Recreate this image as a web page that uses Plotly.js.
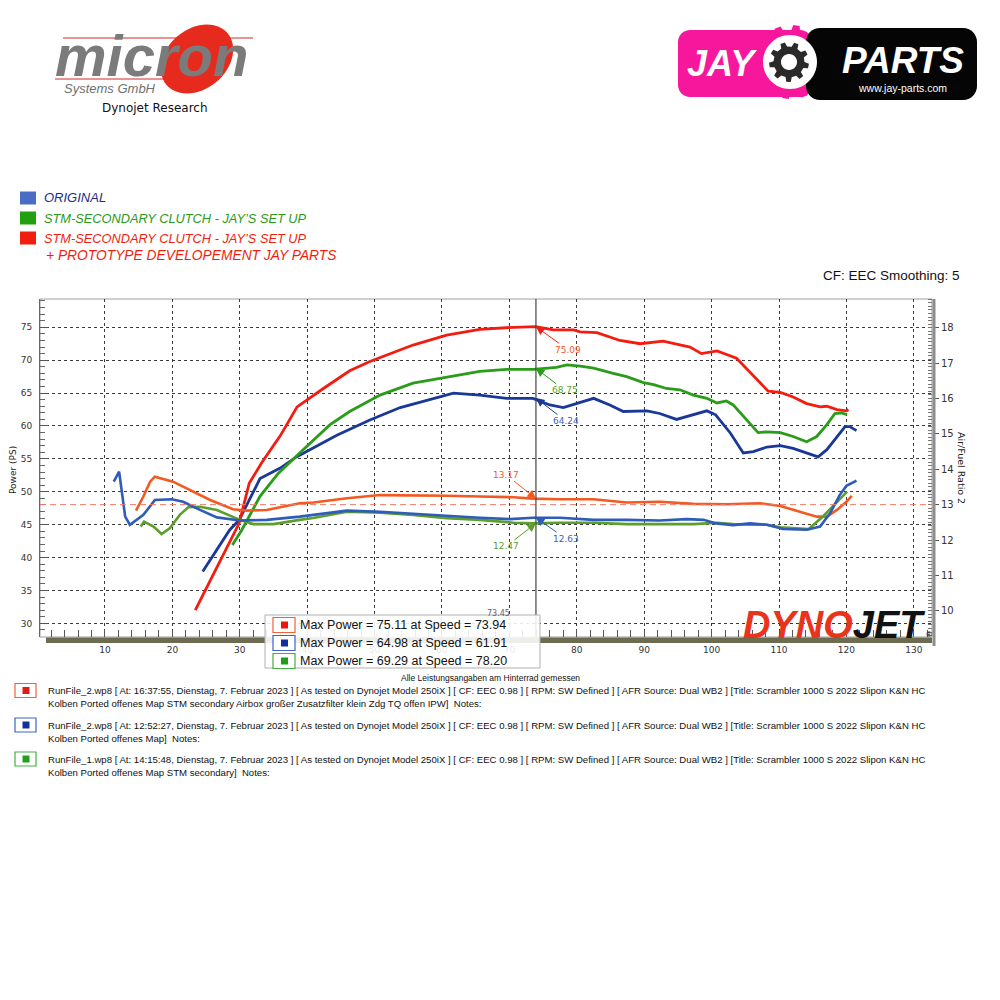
<!DOCTYPE html>
<html><head><meta charset="utf-8">
<script src="https://cdn.plot.ly/plotly-3.0.1.min.js"></script>
<style>html,body{margin:0;padding:0;background:#fff}#chart{width:1000px;height:1000px}</style>
</head><body><div id="chart"></div>
<script>
// ---------- DATA ----------
const redPowerX = [23.4, 29.9, 31.4, 33.3, 36.0, 38.5, 42.4, 46.3, 49.3, 55.7, 60.7, 65.6, 70.6, 73.9, 76.5, 79.5, 80.5, 83.0, 86.4, 89.4, 92.8, 95.3, 96.8, 98.5, 100.8, 103.7, 106.7, 108.4, 110.2, 112.1, 114.1, 116.1, 117.1, 118.6, 120.0, 120.3];
const redPowerY = [32.0, 45.2, 51.3, 54.5, 58.5, 62.9, 65.7, 68.4, 69.8, 72.3, 73.8, 74.7, 75.0, 75.1, 74.6, 74.6, 74.3, 74.2, 73.0, 72.5, 72.9, 72.3, 72.0, 71.0, 71.4, 70.3, 67.2, 65.3, 65.1, 64.4, 63.4, 62.9, 63.0, 62.5, 62.3, 62.5];

const greenPowerX = [28.9, 30.3, 33.0, 35.7, 39.4, 43.4, 46.3, 49.3, 50.8, 55.7, 60.7, 65.6, 69.6, 73.5, 77.0, 78.5, 80.5, 82.5, 85.4, 87.4, 89.9, 91.4, 93.3, 95.3, 97.3, 99.3, 100.8, 102.2, 103.2, 105.2, 106.9, 108.2, 110.2, 112.1, 114.1, 115.6, 117.1, 118.3, 119.3, 120.1];
const greenPowerY = [41.9, 44.2, 49.3, 52.8, 56.4, 60.2, 62.2, 63.8, 64.7, 66.5, 67.4, 68.3, 68.6, 68.6, 68.9, 69.3, 69.1, 68.8, 68.0, 67.5, 66.6, 66.3, 65.7, 65.5, 64.7, 64.2, 63.5, 63.8, 63.2, 60.9, 59.0, 59.1, 59.0, 58.4, 57.6, 58.4, 60.2, 61.9, 62.0, 61.7];

const bluePowerX = [24.5, 28.5, 29.9, 33.0, 36.0, 38.4, 44.4, 49.3, 53.8, 58.2, 61.7, 65.6, 69.6, 73.5, 76.0, 78.0, 80.5, 82.5, 84.9, 86.9, 90.4, 92.3, 94.8, 97.3, 99.3, 100.6, 102.8, 104.7, 106.2, 108.2, 110.2, 112.1, 114.1, 115.8, 117.1, 118.6, 119.8, 120.5, 121.5];
const bluePowerY = [37.9, 44.2, 45.7, 52.0, 53.6, 55.3, 58.6, 60.9, 62.8, 64.0, 65.0, 64.7, 64.2, 64.2, 63.2, 62.8, 63.6, 64.2, 63.2, 62.2, 62.3, 61.9, 61.0, 61.7, 62.3, 61.7, 58.9, 55.9, 56.1, 56.8, 57.0, 56.6, 55.9, 55.3, 56.4, 58.4, 59.9, 59.9, 59.3];

const redAfrX = [14.6, 15.7, 16.7, 17.4, 20.1, 22.6, 25.6, 29.0, 31.0, 34.0, 38.9, 40.9, 45.9, 50.8, 55.7, 60.7, 65.6, 70.6, 73.5, 77.5, 82.5, 87.4, 92.3, 97.3, 102.2, 107.2, 110.2, 113.1, 115.6, 117.1, 118.6, 120.0, 120.8];
const redAfrY = [12.83, 13.23, 13.65, 13.79, 13.65, 13.42, 13.13, 12.87, 12.83, 12.85, 13.04, 13.06, 13.18, 13.27, 13.27, 13.25, 13.23, 13.21, 13.17, 13.15, 13.15, 13.06, 13.08, 13.02, 13.01, 13.04, 12.96, 12.80, 12.66, 12.66, 12.85, 13.08, 13.25];

const greenAfrX = [15.3, 15.8, 17.2, 18.4, 19.6, 21.1, 22.4, 24.1, 26.6, 30.0, 32.0, 35.0, 38.9, 40.9, 45.9, 50.8, 55.7, 60.7, 65.6, 70.6, 73.5, 77.5, 82.5, 87.4, 92.3, 97.3, 100.8, 103.2, 105.7, 108.2, 110.2, 114.4, 116.6, 118.6, 120.1];
const greenAfrY = [12.38, 12.52, 12.38, 12.17, 12.33, 12.71, 12.93, 12.94, 12.85, 12.57, 12.45, 12.45, 12.57, 12.62, 12.80, 12.77, 12.71, 12.62, 12.57, 12.49, 12.47, 12.49, 12.49, 12.45, 12.45, 12.45, 12.49, 12.45, 12.43, 12.43, 12.36, 12.31, 12.68, 13.06, 13.37];

const blueAfrX = [11.3, 12.1, 13.0, 13.7, 15.7, 17.4, 19.9, 21.6, 24.1, 26.6, 30.0, 34.0, 38.9, 45.9, 50.8, 55.7, 60.7, 65.6, 70.1, 73.5, 77.5, 82.5, 87.4, 92.3, 96.3, 98.8, 100.7, 103.2, 105.7, 108.2, 110.6, 114.1, 116.1, 117.6, 119.0, 120.0, 121.5];
const blueAfrY = [13.65, 13.93, 12.66, 12.43, 12.71, 13.13, 13.15, 13.08, 12.85, 12.64, 12.55, 12.57, 12.66, 12.83, 12.80, 12.74, 12.68, 12.63, 12.59, 12.63, 12.63, 12.57, 12.57, 12.55, 12.59, 12.57, 12.47, 12.42, 12.47, 12.43, 12.31, 12.29, 12.38, 12.76, 13.27, 13.53, 13.68];

const cursorSpeed = 73.94;
const cursorPower = [75.09, 68.75, 64.24];   // red, green, blue
const cursorAfr = [13.17, 12.47, 12.63];     // red, green, blue
const afrReference = 13;
const maxPower = [75.11, 64.98, 69.29];
const maxPowerSpeed = [73.94, 61.91, 78.20];
const xTicks = [10, 20, 30, 40, 50, 60, 70, 80, 90, 100, 110, 120, 130];

const legendLabels = ['ORIGINAL', 'STM-SECONDARY CLUTCH - JAY\u2019S SET UP', 'STM-SECONDARY CLUTCH - JAY\u2019S SET UP', '+ PROTOTYPE DEVELOPEMENT JAY PARTS'];
const notes = [
  ['RunFile_2.wp8 [ At: 16:37:55, Dienstag, 7. Februar 2023 ] [ As tested on Dynojet Model 250iX ] [ CF: EEC 0.98 ] [ RPM: SW Defined ] [ AFR Source: Dual WB2 ] [Title: Scrambler 1000 S 2022 Slipon K&amp;N HC',
   'Kolben Ported offenes Map STM secondary Airbox gro\u00dfer Zusatzfilter klein Zdg TQ offen IPW]  Notes:'],
  ['RunFile_2.wp8 [ At: 12:52:27, Dienstag, 7. Februar 2023 ] [ As tested on Dynojet Model 250iX ] [ CF: EEC 0.98 ] [ RPM: SW Defined ] [ AFR Source: Dual WB2 ] [Title: Scrambler 1000 S 2022 Slipon K&amp;N HC',
   'Kolben Ported offenes Map]  Notes:'],
  ['RunFile_1.wp8 [ At: 14:15:48, Dienstag, 7. Februar 2023 ] [ As tested on Dynojet Model 250iX ] [ CF: EEC 0.98 ] [ RPM: SW Defined ] [ AFR Source: Dual WB2 ] [Title: Scrambler 1000 S 2022 Slipon K&amp;N HC',
   'Kolben Ported offenes Map STM secondary]  Notes:']
];

// ---------- LAYOUT HELPERS ----------
const PL = 40, PR = 932, PT = 299, PB = 637;
function px(x){ return (x - PL) / (PR - PL); }
function py(y){ return (PB - y) / (PB - PT); }
function P(x, y){ return px(x).toFixed(5) + ',' + py(y).toFixed(5); }

const C = {
  redP: '#f41c10', greenP: '#2a9c1a', blueP: '#1a3898',
  redA: '#f35a22', greenA: '#5c9f2a', blueA: '#2e5cba'
};

const traces = [
  {x: redAfrX, y: redAfrY, yaxis: 'y2', mode: 'lines', line: {color: C.redA, width: 2.6}},
  {x: greenAfrX, y: greenAfrY, yaxis: 'y2', mode: 'lines', line: {color: C.greenA, width: 2.6}},
  {x: blueAfrX, y: blueAfrY, yaxis: 'y2', mode: 'lines', line: {color: C.blueA, width: 2.6}},
  {x: bluePowerX, y: bluePowerY, mode: 'lines', line: {color: C.blueP, width: 2.8}},
  {x: greenPowerX, y: greenPowerY, mode: 'lines', line: {color: C.greenP, width: 2.8}},
  {x: redPowerX, y: redPowerY, mode: 'lines', line: {color: C.redP, width: 2.8}}
];

function rectP(x0, y0, x1, y1, fill, line, lw, layer){
  return {type: 'rect', xref: 'paper', yref: 'paper', x0: px(x0), x1: px(x1), y0: py(y1), y1: py(y0),
    fillcolor: fill, line: {color: line || fill, width: lw === undefined ? 0 : lw}, layer: layer || 'above'};
}
function pathP(points, fill, layer){
  let d = 'M ' + points.map(p => P(p[0], p[1])).join(' L ') + ' Z';
  return {type: 'path', xref: 'paper', yref: 'paper', path: d, fillcolor: fill, line: {width: 0}, layer: layer || 'above'};
}
function ellipsePts(cx, cy, a, b, deg){
  const t = deg * Math.PI / 180, pts = [];
  for (let i = 0; i < 60; i++){
    const u = i / 60 * 2 * Math.PI;
    pts.push([cx + a*Math.cos(u)*Math.cos(t) - b*Math.sin(u)*Math.sin(t), cy + a*Math.cos(u)*Math.sin(t) + b*Math.sin(u)*Math.cos(t)]);
  }
  return pts;
}
function gearPts(cx, cy, rO, rI, n){
  const pts = [];
  for (let i = 0; i < n; i++){
    const a0 = i / n * 2 * Math.PI, s = 2 * Math.PI / n;
    const angs = [[a0, rI], [a0 + s*0.12, rO], [a0 + s*0.45, rO], [a0 + s*0.57, rI]];
    angs.forEach(([a, r]) => pts.push([cx + r*Math.cos(a), cy + r*Math.sin(a)]));
  }
  return pts;
}
function roundRectPts(x0, y0, x1, y1, r){
  const pts = [];
  const corners = [[x1 - r, y0 + r, -90], [x1 - r, y1 - r, 0], [x0 + r, y1 - r, 90], [x0 + r, y0 + r, 180]];
  corners.forEach(([cx, cy, st]) => {
    for (let k = 0; k <= 8; k++){
      const a = (st + k * 90 / 8) * Math.PI / 180;
      pts.push([cx + r*Math.cos(a), cy + r*Math.sin(a)]);
    }
  });
  return pts;
}
function ann(x, y, text, opts){
  return Object.assign({xref: 'paper', yref: 'paper', x: px(x), y: py(y), text: text, showarrow: false,
    xanchor: 'left', yanchor: 'middle', font: {family: 'Liberation Sans, Arial, sans-serif', size: 10, color: '#111'}}, opts || {});
}

const shapes = [];
const annotations = [];

// plot frame / axis decorations
shapes.push(rectP(PL, PT, PR, PB, 'rgba(0,0,0,0)', '#a0a0a0', 1, 'below'));
shapes.push({type: 'line', xref: 'paper', yref: 'paper', x0: px(934), x1: px(934), y0: py(299), y1: py(646), line: {color: '#8d8d8d', width: 3}, layer: 'above'});
shapes.push(rectP(46, 637.5, 932, 643, '#6d6b50', null, 0, 'above'));
// AFR reference line
shapes.push({type: 'line', xref: 'paper', yref: 'y2', x0: 0, x1: 1, y0: afrReference, y1: afrReference, line: {color: '#f07a66', width: 1, dash: '6px,4px'}, layer: 'above'});
// cursor
shapes.push({type: 'line', xref: 'x', yref: 'paper', x0: cursorSpeed, x1: cursorSpeed, y0: 0, y1: 1, line: {color: '#444', width: 1.2}, layer: 'above'});

// cursor annotations
const labelCols = [C.redA, '#5ca12e', '#3a62c0'];
const arrowCols = [C.redP, C.greenP, C.blueP];
const powOff = [[32, 23], [29, 22], [30, 23]];
cursorPower.forEach((v, i) => annotations.push({x: cursorSpeed, y: v, xref: 'x', yref: 'y', text: v.toFixed(2), showarrow: true,
  ax: powOff[i][0], ay: powOff[i][1], arrowhead: 2, arrowsize: 1.7, arrowwidth: 1, arrowcolor: arrowCols[i],
  font: {family: 'DejaVu Sans, sans-serif', size: 9, color: labelCols[i]}}));
const afrOff = [[-30, -24], [-30, 23], [30, 21]];
const afrArrowCols = [C.redA, C.greenA, C.blueA];
cursorAfr.forEach((v, i) => annotations.push({x: cursorSpeed, y: v, xref: 'x', yref: 'y2', text: v.toFixed(2), showarrow: true,
  ax: afrOff[i][0], ay: afrOff[i][1], arrowhead: 2, arrowsize: 1.7, arrowwidth: 1, arrowcolor: afrArrowCols[i],
  font: {family: 'DejaVu Sans, sans-serif', size: 9, color: labelCols[i]}}));

annotations.push(ann(498, 613, '73.45', {font: {family: 'DejaVu Sans, sans-serif', size: 8, color: '#666'}, xanchor: 'center'}));

// Max power box
shapes.push(rectP(265, 615, 540, 668, 'rgba(255,255,255,0.88)', '#b0b0b0', 1, 'above'));
const boxBorder = ['#f0603c', '#3c68c4', '#44b040'];
const boxFill = ['#e8180c', '#12309c', '#1f9d1c'];
const mpRowsY = [625, 643, 661];
mpRowsY.forEach((yy, i) => {
  shapes.push(rectP(273, yy - 7.5, 295, yy + 7.5, '#ffffff', boxBorder[i], 1.2, 'above'));
  shapes.push(rectP(281, yy - 3.5, 288, yy + 3.5, boxFill[i], null, 0, 'above'));
  annotations.push(ann(298, yy, 'Max Power = ' + maxPower[i].toFixed(2) + ' at Speed = ' + maxPowerSpeed[i].toFixed(2),
    {font: {family: 'Liberation Sans, Arial, sans-serif', size: 12.5, color: '#111'}}));
});

// top-left legend
const legCols = ['#4a6cc4', '#22a00f', '#f01e0e'];
const legTextCols = ['#1a2e8a', '#2a9a1a', '#f01e0e'];
[198, 218, 238].forEach((yy, i) => {
  shapes.push(rectP(20, yy - 6.5, 36, yy + 6.5, legCols[i], null, 0, 'above'));
  annotations.push(ann(42, yy, legendLabels[i], {font: {family: 'Liberation Sans, Arial, sans-serif', size: i === 0 ? 13 : 12.8, color: legTextCols[i], style: 'italic'}}));
});
annotations.push(ann(44, 256, legendLabels[3], {font: {family: 'Liberation Sans, Arial, sans-serif', size: 13.8, color: legTextCols[2], style: 'italic'}}));

annotations.push(ann(962, 275, 'CF: EEC Smoothing: 5', {xanchor: 'right', font: {family: 'Liberation Sans, Arial, sans-serif', size: 13.5, color: '#111'}}));

// axis titles
annotations.push(ann(13, 470, 'Power (PS)', {xanchor: 'center', textangle: -90, font: {family: 'DejaVu Sans, sans-serif', size: 9, color: '#222'}}));
annotations.push(ann(962, 468, 'Air/Fuel Ratio 2', {xanchor: 'center', textangle: 90, font: {family: 'DejaVu Sans, sans-serif', size: 9.5, color: '#222'}}));

// DYNOJET logo
annotations.push(ann(834, 625, '<span style="color:#e8341c">DYNO</span><span style="color:#111">JET</span>', {xanchor: 'center',
  font: {family: 'Liberation Sans, Arial, sans-serif', size: 38, weight: 'bold', style: 'italic', color: '#111'}}));
annotations.push(ann(929, 634, '\u00ae', {xanchor: 'center', font: {family: 'Liberation Sans, Arial, sans-serif', size: 8, color: '#111'}}));

// bottom notes
annotations.push(ann(491, 678, 'Alle Leistungsangaben am Hinterrad gemessen', {xanchor: 'center', font: {family: 'Liberation Sans, Arial, sans-serif', size: 8.5, color: '#111'}}));
const noteY = [690.5, 725, 759];
const noteBorder = ['#f06040', '#3a66c0', '#44b044'];
const noteFill = ['#e01c10', '#12309c', '#20a020'];
noteY.forEach((yy, i) => {
  shapes.push(rectP(15, yy - 7, 36, yy + 7, '#ffffff', noteBorder[i], 1.2, 'above'));
  shapes.push(rectP(22.5, yy - 3.5, 29.5, yy + 3.5, noteFill[i], null, 0, 'above'));
  annotations.push(ann(46, yy, notes[i][0], {font: {family: 'Liberation Sans, Arial, sans-serif', size: 9.6, color: '#111'}}));
  annotations.push(ann(46, yy + 13, notes[i][1], {font: {family: 'Liberation Sans, Arial, sans-serif', size: 9.6, color: '#111'}}));
});

// micron logo
shapes.push({type: 'line', xref: 'paper', yref: 'paper', x0: px(63), x1: px(253), y0: py(38), y1: py(38), line: {color: '#e07070', width: 1.3}, layer: 'above'});
shapes.push({type: 'line', xref: 'paper', yref: 'paper', x0: px(55), x1: px(200), y0: py(79), y1: py(79), line: {color: '#e07070', width: 1.3}, layer: 'above'});
shapes.push(pathP(ellipsePts(197, 59, 40, 30, -40), '#e62b1e'));
annotations.push(ann(53, 55, '<i>micron</i>', {font: {family: 'Liberation Sans, Arial, sans-serif', size: 58, weight: 'bold', color: '#7b7b7b'}}));
annotations.push(ann(62, 89, '<i>Systems GmbH</i>', {font: {family: 'Liberation Sans, Arial, sans-serif', size: 13, color: '#707070'}}));
annotations.push(ann(100, 108, 'Dynojet Research', {font: {family: 'DejaVu Sans, sans-serif', size: 12, color: '#111'}}));

// JAY PARTS logo
shapes.push(pathP(roundRectPts(678, 30, 812, 97, 12), '#f7179c'));
shapes.push(pathP(gearPts(791, 62, 37, 31, 12), '#f7179c'));
shapes.push(pathP(roundRectPts(806, 28, 977, 100, 14), '#050505'));
shapes.push(pathP(ellipsePts(790, 62, 27, 27, 0), '#ffffff'));
shapes.push(pathP(gearPts(789, 62, 20, 15.5, 9), '#2a2a2a'));
shapes.push(pathP(ellipsePts(789, 62, 8, 8, 0), '#ffffff'));
annotations.push(ann(722, 63, 'JAY', {xanchor: 'center', font: {family: 'Liberation Sans, Arial, sans-serif', size: 36, weight: 'bold', style: 'italic', color: '#ffffff'}}));
annotations.push(ann(903, 60, 'PARTS', {xanchor: 'center', font: {family: 'Liberation Sans, Arial, sans-serif', size: 37, weight: 'bold', style: 'italic', color: '#ffffff'}}));
annotations.push(ann(902, 88, 'www.jay-parts.com', {xanchor: 'center', font: {family: 'Liberation Sans, Arial, sans-serif', size: 10.5, color: '#ffffff'}}));

const tickFont = {family: 'DejaVu Sans, sans-serif', size: 9, color: '#333'};
const layout = {
  width: 1000, height: 1000,
  margin: {l: PL, r: 1000 - PR, t: PT, b: 1000 - PB},
  paper_bgcolor: '#ffffff', plot_bgcolor: '#ffffff',
  showlegend: false,
  xaxis: {range: [0.36, 132.7], tickvals: xTicks, ticktext: xTicks.map(String), tickfont: tickFont,
    showgrid: true, gridcolor: '#3a3a3a', griddash: 'dot', gridwidth: 1, zeroline: false,
    ticks: 'inside', ticklen: 7, tickcolor: '#555', ticklabelstandoff: 6,
    minor: {dtick: 2, tick0: 0, ticks: 'inside', ticklen: 7, tickcolor: '#555', showgrid: false},
    showline: false},
  yaxis: {range: [27.93, 79.3], dtick: 5, tick0: 0, tickfont: tickFont,
    showgrid: true, gridcolor: '#3a3a3a', griddash: 'dot', gridwidth: 1, zeroline: false,
    ticks: 'inside', ticklen: 8, tickcolor: '#555', ticklabelstandoff: 5,
    minor: {dtick: 1, ticks: 'inside', ticklen: 5, tickcolor: '#666', showgrid: false},
    showline: true, linecolor: '#666', linewidth: 1},
  yaxis2: {range: [9.26, 18.81], dtick: 1, tick0: 0, overlaying: 'y', side: 'right', tickfont: {family: 'DejaVu Sans, sans-serif', size: 10, color: '#333'},
    showgrid: false, zeroline: false, ticks: 'outside', ticklen: 6, tickcolor: '#555',
    minor: {dtick: 0.1, ticks: 'inside', ticklen: 4, tickcolor: '#777', showgrid: false},
    showline: false},
  shapes: shapes,
  annotations: annotations
};

Plotly.newPlot('chart', traces, layout, {displayModeBar: false, staticPlot: true});
</script>
</body></html>
